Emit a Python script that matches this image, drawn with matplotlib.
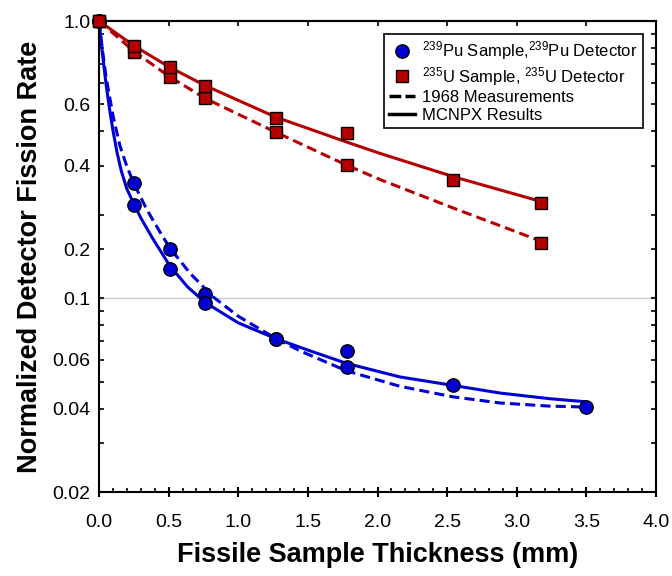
import matplotlib
matplotlib.use("Agg")
import matplotlib.pyplot as plt
from matplotlib.lines import Line2D

plt.rcParams['font.family'] = ['Liberation Sans', 'DejaVu Sans']
plt.rcParams['mathtext.fontset'] = 'custom'
plt.rcParams['mathtext.rm'] = 'Liberation Sans'
plt.rcParams['mathtext.default'] = 'regular'

# 239Pu sample / 239Pu detector points
pu_meas_x = [0.0, 0.254, 0.508, 0.762, 1.27, 1.778, 3.5]
pu_meas_y = [1.0, 0.26, 0.150, 0.1034, 0.0712, 0.0565, 0.0405]
pu_calc_x = [0.0, 0.254, 0.508, 0.762, 1.27, 1.778, 2.54]
pu_calc_y = [1.0, 0.217, 0.128, 0.0962, 0.0715, 0.0645, 0.0485]

# curves
pu_dash_x = [0, 0.025, 0.05, 0.1, 0.15, 0.2, 0.254, 0.343, 0.43, 0.508, 0.654, 0.821, 1.0,
             1.27, 1.443, 1.778, 2.162, 2.54, 2.88, 3.239, 3.5]
pu_dash_y = [1.0, 0.785, 0.631, 0.457, 0.355, 0.299, 0.257, 0.209, 0.176, 0.152, 0.123, 0.101, 0.0861,
             0.0716, 0.0646, 0.0547, 0.0481, 0.0441, 0.0419, 0.0408, 0.0405]
pu_solid_x = [0, 0.025, 0.05, 0.075, 0.1, 0.13, 0.16, 0.2, 0.254, 0.3, 0.38, 0.508, 0.635, 0.762,
              1.0, 1.27, 1.5, 1.778, 2.162, 2.54, 2.88, 3.239, 3.5]
pu_solid_y = [1.0, 0.759, 0.596, 0.484, 0.403, 0.335, 0.288, 0.248, 0.217, 0.195, 0.166, 0.131, 0.110, 0.0966,
              0.0815, 0.0715, 0.065, 0.0582, 0.052, 0.0485, 0.0455, 0.0434, 0.0423]

# 235U sample / 235U detector points
u_meas_x = [0.0, 0.254, 0.508, 0.762, 1.27, 1.778, 3.175]
u_meas_y = [1.0, 0.775, 0.629, 0.526, 0.397, 0.302, 0.158]
u_calc_x = [0.0, 0.254, 0.508, 0.762, 1.27, 1.778, 2.54, 3.175]
u_calc_y = [1.0, 0.812, 0.681, 0.582, 0.447, 0.394, 0.267, 0.22]

u_dash_x = [0, 0.254, 0.508, 0.762, 1.27, 1.778, 2.018, 2.549, 3.183]
u_dash_y = [1.0, 0.775, 0.629, 0.526, 0.397, 0.302, 0.268, 0.211, 0.160]
u_solid_x = [0, 0.254, 0.508, 0.762, 1.27, 1.778, 2.018, 2.549, 3.183]
u_solid_y = [1.0, 0.812, 0.681, 0.585, 0.450, 0.366, 0.333, 0.274, 0.2227]

# axis ticks (labels sit where the original figure put them)
y_major = [0.02, 0.04, 0.06, 0.1, 0.15, 0.3, 0.5, 1.0]
y_labels = ['0.02', '0.04', '0.06', '0.1', '0.2', '0.4', '0.6', '1.0']
y_minor = [0.03, 0.05, 0.07, 0.08, 0.09, 0.2, 0.4, 0.6, 0.7, 0.8, 0.9]
x_major = [0, 0.5, 1.0, 1.5, 2.0, 2.5, 3.0, 3.5, 4.0]
x_minor = [i / 10 for i in range(41)]

blue = '#0000d4'
red = '#b40000'
dash = (0, (3.3, 1.7))

fig = plt.figure(figsize=(6.72, 5.76), dpi=100)
ax = fig.add_axes([99 / 672, 1 - 492 / 576, 557 / 672, 471 / 576])
ax.set_yscale('log')

ax.axhline(0.1, color='#c8c8c8', lw=1, zorder=0)

ax.plot(pu_dash_x, pu_dash_y, color=blue, lw=2.2, ls=dash, zorder=2)
ax.plot(pu_solid_x, pu_solid_y, color=blue, lw=2.2, zorder=2)
ax.plot(u_dash_x, u_dash_y, color=red, lw=2.2, ls=dash, zorder=2)
ax.plot(u_solid_x, u_solid_y, color=red, lw=2.2, zorder=2)

for xs, ys in [(pu_meas_x, pu_meas_y), (pu_calc_x, pu_calc_y)]:
    ax.plot(xs, ys, ls='none', marker='o', ms=9.6, mfc=blue, mec='k', mew=1, zorder=3, clip_on=False)
for xs, ys in [(u_meas_x, u_meas_y), (u_calc_x, u_calc_y)]:
    ax.plot(xs, ys, ls='none', marker='s', ms=9, mfc=red, mec='k', mew=1, zorder=4, clip_on=False)

ax.set_xlim(0, 4)
ax.set_ylim(0.02, 1.0)
ax.set_xticks(x_major)
ax.set_xticklabels(['%.1f' % v for v in x_major])
ax.set_xticks(x_minor, minor=True)
ax.set_yticks(y_major)
ax.set_yticklabels(y_labels)
ax.set_yticks(y_minor, minor=True)
ax.yaxis.set_minor_formatter(plt.NullFormatter())

ax.tick_params(axis='x', which='major', direction='inout', length=7, width=1.5, labelsize=14, pad=12)
ax.tick_params(axis='x', which='minor', direction='in', length=3, width=1.2)
ax.tick_params(axis='y', which='both', direction='in', length=3.5, width=1.2, labelsize=14, right=True, pad=6)

top = ax.secondary_xaxis('top')
top.set_xticks(x_major)
top.tick_params(direction='in', length=3.5, width=1.2, labeltop=False)
top.spines['top'].set_linewidth(1.5)

for s in ax.spines.values():
    s.set_linewidth(1.5)

ax.set_xlabel('Fissile Sample Thickness (mm)', fontsize=19.5, fontweight='bold', labelpad=8)
ax.set_ylabel('Normalized Detector Fission Rate', fontsize=19.5, fontweight='bold', labelpad=7)

handles = [
    Line2D([], [], ls='none', marker='o', ms=9.6, mfc=blue, mec='k'),
    Line2D([], [], ls='none', marker='s', ms=9, mfc=red, mec='k'),
    Line2D([], [], color='k', lw=2.5, ls=(0, (3.4, 1.2))),
    Line2D([], [], color='k', lw=2.5),
]
labels = ['$^{239}$Pu Sample,$^{239}$Pu Detector',
          '$^{235}$U Sample, $^{235}$U Detector',
          '1968 Measurements',
          'MCNPX Results']
leg = ax.legend(handles, labels, loc='upper right', fontsize=12, frameon=True, fancybox=False,
                framealpha=1, edgecolor='k', handlelength=1.6, handletextpad=0.4,
                labelspacing=0.15, borderpad=0.3, borderaxespad=0.8)
leg.get_frame().set_linewidth(1.2)

fig.savefig('out.png', dpi=100)
